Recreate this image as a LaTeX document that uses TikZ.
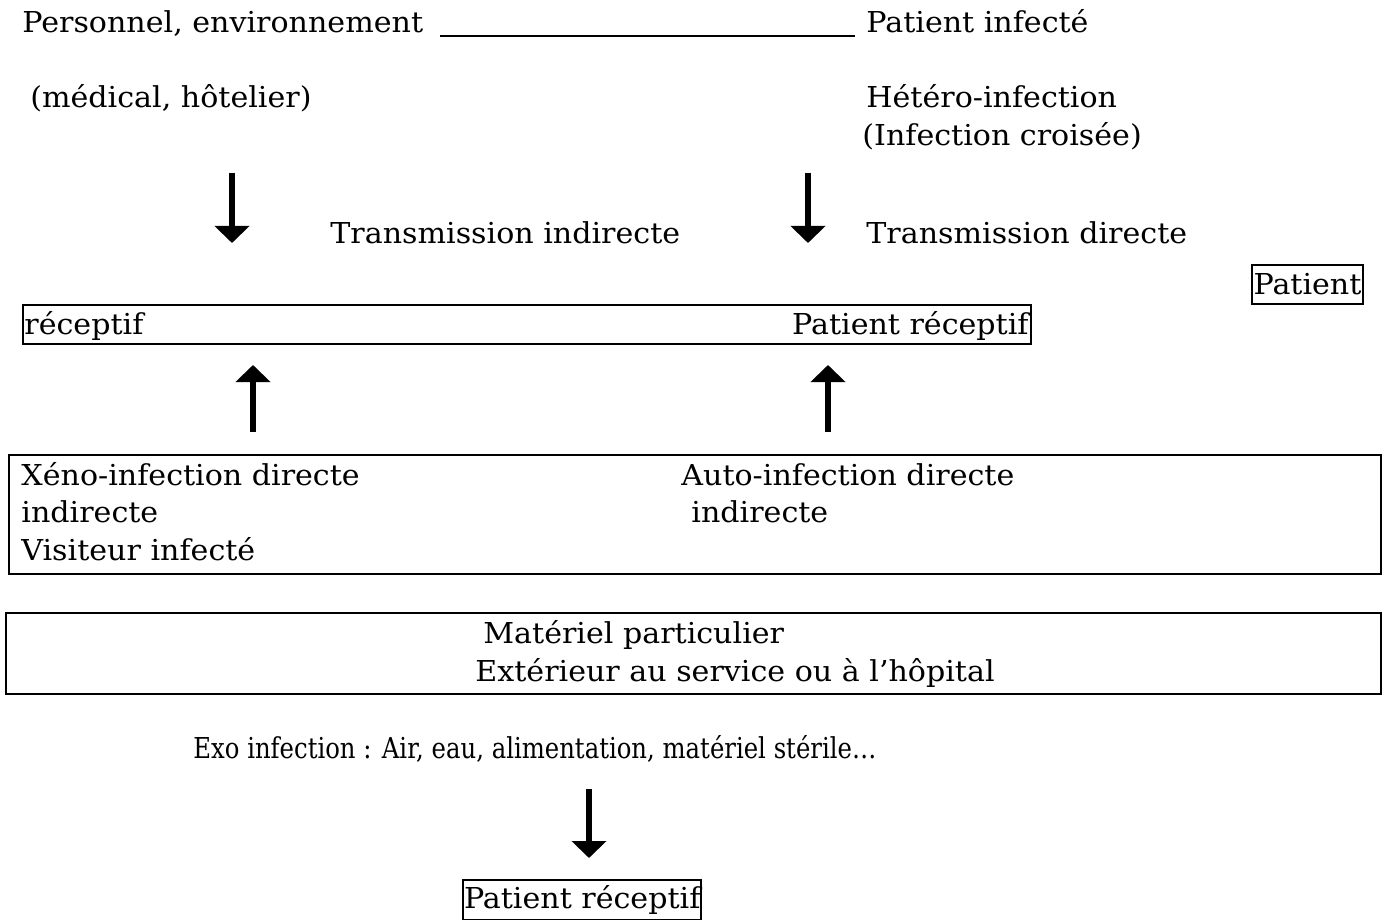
\documentclass[tikz,border=0pt]{standalone}
\usepackage{fontspec}
\setmainfont[FakeStretch=1.045]{DejaVu Serif}
\newfontfamily\narrowfont[FakeStretch=0.845]{DejaVu Serif}
\usepackage{tikz}
\usetikzlibrary{positioning,arrows.meta}

\tikzset{
  txt/.style={anchor=base west, inner sep=0pt, font=\fontsize{14.4}{17}\selectfont},
  frame/.style={draw, line width=1pt, inner sep=0pt, anchor=north west},
  tagbox/.style={frame, inner xsep=0.5pt, font=\fontsize{14.4}{17}\selectfont},
  flow/.style={line width=3.3pt, -{Triangle[width=17pt,length=8.5pt]}},
  rule/.style={line width=1pt}
}

\begin{document}
\begin{tikzpicture}[x=0.5pt,y=-0.5pt]
        \useasboundingbox (0,0) rectangle (1389,920);

        \node[txt] (pers) at (22,33) {Personnel, environnement};
        \node[txt] (infe) at (866,33) {Patient infecté};
        \node[txt] (medi) at (30,108) {(médical, hôtelier)};
        \node[txt] (hete) at (866,108) {Hétéro-infection};
        \node[txt] (croi) at (862,146) {(Infection croisée)};
        \node[txt] (tind) at (330,243) {Transmission indirecte};
        \node[txt] (tdir) at (866,243) {Transmission directe};

        \coordinate (ul1) at (440,36);
        \coordinate (ul2) at (855,36);
        \draw[rule] (ul1) -- (ul2);

        \node[tagbox, minimum width=55.5pt, minimum height=19.5pt] (pat) at (1251,264) {Patient};
        \node[frame, minimum width=504pt, minimum height=19.5pt] (rec) at (22,304) {};
        \node[txt] (rec1) at (24,335) {réceptif};
        \node[txt, anchor=base east] (rec2) at (1029,335) {Patient réceptif};

        \node[frame, minimum width=686pt, minimum height=59.5pt] (xeno) at (8,454) {};
        \node[txt] (x1) at (21,485) {Xéno-infection directe};
        \node[txt] (x2) at (21,522) {indirecte};
        \node[txt] (x3) at (21,560) {Visiteur infecté};
        \node[txt] (a1) at (681,485) {Auto-infection directe};
        \node[txt] (a2) at (691,522) {indirecte};

        \node[frame, minimum width=687.5pt, minimum height=40.5pt] (mat) at (5,612) {};
        \node[txt] (m1) at (483,643) {Matériel particulier};
        \node[txt] (m2) at (475,681) {Extérieur au service ou à l’hôpital};

        \node[txt, font=\fontsize{14.4}{17}\narrowfont] (exo) at (193,758) {Exo infection : Air, eau, alimentation, matériel stérile…};
        \node[tagbox, minimum width=119pt, minimum height=20pt] (fin) at (462,879) {Patient réceptif};

        \coordinate (d1a) at (232,173);
        \coordinate (d1b) at (232,243);
        \coordinate (d2a) at (808,173);
        \coordinate (d2b) at (808,243);
        \coordinate (u1a) at (253,432);
        \coordinate (u1b) at (253,365);
        \coordinate (u2a) at (828,432);
        \coordinate (u2b) at (828,365);
        \coordinate (d3a) at (589,789);
        \coordinate (d3b) at (589,858);

        \draw[flow] (d1a) -- (d1b);
        \draw[flow] (d2a) -- (d2b);
        \draw[flow] (u1a) -- (u1b);
        \draw[flow] (u2a) -- (u2b);
        \draw[flow] (d3a) -- (d3b);
      \end{tikzpicture}
\end{document}
